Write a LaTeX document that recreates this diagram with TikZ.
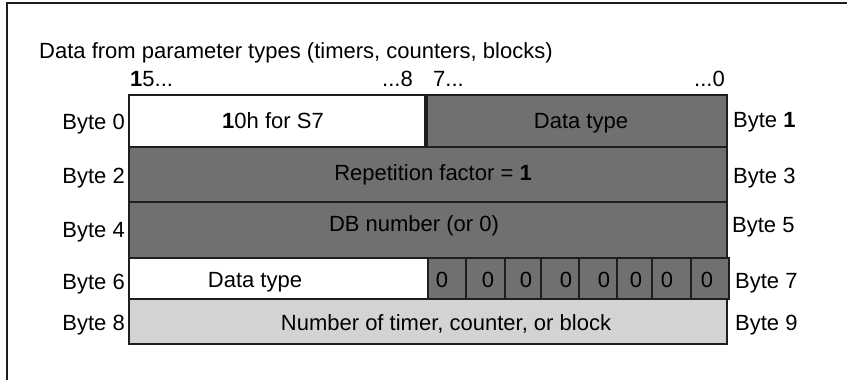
\documentclass[tikz,border=0pt]{standalone}
\usepackage{fontspec}
\setmainfont{Liberation Sans}
\usetikzlibrary{calc}

\definecolor{cellDark}{HTML}{707070}
\definecolor{cellLight}{HTML}{D3D3D3}
\definecolor{lineDark}{HTML}{1E1E1E}

\begin{document}
\begin{tikzpicture}[x=1pt,y=-1pt,font=\fontsize{22}{26}\selectfont,
  txt/.style={inner sep=0pt,anchor=base},
  lbl/.style={inner sep=0pt,anchor=base east},
  rlbl/.style={inner sep=0pt,anchor=base west}]
  \useasboundingbox (0,0) rectangle (847,380);
  % frame
  \draw[lineDark,line width=1.5pt] (7,380) -- (7,3) -- (847,3);
  % title and bit numbers
  \node[rlbl] (title) at (39,58) {Data from parameter types (timers, counters, blocks)};
  \node[rlbl] (bit15) at (130,86) {\textbf{1}5...};
  \node[lbl] (bit8) at (413,86) {...8};
  \node[rlbl] (bit7) at (433,86) {7...};
  \node[lbl] (bit0) at (725,86) {...0};
  % bytes 0 and 1
  \fill[white] (129,95) rectangle (425,147);
  \draw[lineDark,line width=1.2pt] (129,95) rectangle (425,147);
  \node[txt] (s7) at (273,128) {\textbf{1}0h for S7};
  \fill[cellDark] (427,95) rectangle (727,147);
  \draw[lineDark,line width=1.2pt] (427,95) rectangle (727,147);
  \node[txt] (dtype) at (581,128) {Data type};
  % bytes 2 and 3
  \fill[cellDark] (129,147) rectangle (727,202);
  \draw[lineDark,line width=1.2pt] (129,147) rectangle (727,202);
  \node[txt] (rep) at (433,180) {Repetition factor = \textbf{1}};
  % bytes 4 and 5
  \fill[cellDark] (129,202) rectangle (727,258);
  \draw[lineDark,line width=1.2pt] (129,202) rectangle (727,258);
  \node[txt] (db) at (414,231) {DB number (or 0)};
  % bytes 6 and 7
  \fill[white] (129,258) rectangle (428,299);
  \draw[lineDark,line width=1.2pt] (129,258) rectangle (428,299);
  \node[txt] (dtype6) at (255,287) {Data type};
  \foreach \xa/\xb/\xz [count=\i] in {428/466/442, 466/505/488, 505/541/526,
      541/579/566, 579/617/604, 617/652/636, 652/691/667, 691/729/707} {
    \fill[cellDark] (\xa,258) rectangle (\xb,299);
    \draw[lineDark,line width=1.2pt] (\xa,258) rectangle (\xb,299);
    \node[txt] (zero\i) at (\xz,287) {0};
  }
  % bytes 8 and 9
  \fill[cellLight] (129,299) rectangle (727,344);
  \draw[lineDark,line width=1.2pt] (129,299) rectangle (727,344);
  \node[txt] (num) at (446,330) {Number of timer, counter, or block};
  % byte labels
  \node[lbl] (b0) at (125,129) {Byte 0};
  \node[lbl] (b2) at (125,183) {Byte 2};
  \node[lbl] (b4) at (125,237) {Byte 4};
  \node[lbl] (b6) at (125,289) {Byte 6};
  \node[lbl] (b8) at (125,330) {Byte 8};
  \node[rlbl] (b1) at (733,127) {Byte \textbf{1}};
  \node[rlbl] (b3) at (733,183) {Byte 3};
  \node[rlbl] (b5) at (732,232) {Byte 5};
  \node[rlbl] (b7) at (735,288) {Byte 7};
  \node[rlbl] (b9) at (735,330) {Byte 9};
\end{tikzpicture}
\end{document}
